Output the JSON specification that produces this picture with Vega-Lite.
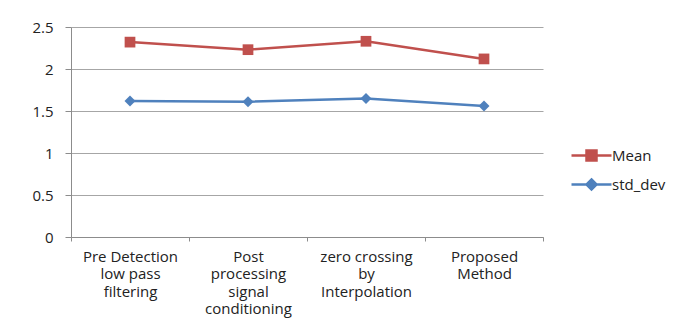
{
  "$schema": "https://vega.github.io/schema/vega-lite/v6.json",
  "autosize": "none",
  "width": 472,
  "height": 210,
  "padding": {"left": 71, "top": 27, "right": 156, "bottom": 82},
  "background": "white",
  "data": {
    "values": [
      {"method": "Pre Detection low pass filtering", "series": "Mean", "value": 2.32},
      {"method": "Post processing signal conditioning", "series": "Mean", "value": 2.23},
      {"method": "zero crossing by Interpolation", "series": "Mean", "value": 2.33},
      {"method": "Proposed Method", "series": "Mean", "value": 2.12},
      {"method": "Pre Detection low pass filtering", "series": "std_dev", "value": 1.62},
      {"method": "Post processing signal conditioning", "series": "std_dev", "value": 1.61},
      {"method": "zero crossing by Interpolation", "series": "std_dev", "value": 1.65},
      {"method": "Proposed Method", "series": "std_dev", "value": 1.56}
    ]
  },
  "encoding": {
    "x": {
      "field": "method",
      "type": "nominal",
      "sort": null,
      "scale": {"paddingInner": 0, "paddingOuter": 0},
      "axis": {
        "title": null,
        "labelAngle": 0,
        "labelExpr": "datum.label == 'Pre Detection low pass filtering' ? ['Pre Detection','low pass','filtering'] : datum.label == 'Post processing signal conditioning' ? ['Post','processing','signal','conditioning'] : datum.label == 'zero crossing by Interpolation' ? ['zero crossing','by','Interpolation'] : datum.label == 'Proposed Method' ? ['Proposed','Method'] : ''",
        "labelLineHeight": 17.5,
        "labelBaseline": "top",
        "labelPadding": 8,
        "labelFontSize": 15,
        "tickBand": "extent",
        "tickSize": 4,
        "tickColor": "#8c8c8c",
        "domainColor": "#8c8c8c",
        "grid": false
      }
    },
    "y": {
      "field": "value",
      "type": "quantitative",
      "scale": {"domain": [0, 2.5], "nice": false},
      "axis": {
        "title": null,
        "values": [0, 0.5, 1, 1.5, 2, 2.5],
        "format": ".1~f",
        "tickSize": 6,
        "labelPadding": 12,
        "labelFontSize": 15,
        "tickColor": "#8c8c8c",
        "domainColor": "#8c8c8c",
        "gridColor": "#a6a6a6",
        "grid": true
      }
    },
    "color": {
      "field": "series",
      "type": "nominal",
      "scale": {"domain": ["Mean", "std_dev"], "range": ["#C0504D", "#4F81BD"]},
      "legend": {
        "title": null,
        "orient": "none",
        "legendX": 499,
        "legendY": 117,
        "padding": 0,
        "symbolSize": 400,
        "symbolStrokeWidth": 2.5,
        "labelOffset": 19,
        "rowPadding": 7,
        "labelFontSize": 15,
        "encode": {
          "symbols": {
            "update": {
              "shape": {"signal": "datum.value == 'Mean' ? 'M-1,0H3M0.5,-0.5H1.5V0.5H0.5Z' : 'M-1,0H3M1,-0.5L1.5,0L1,0.5L0.5,0Z'"},
              "fill": {"signal": "datum.value == 'Mean' ? '#C0504D' : '#4F81BD'"},
              "stroke": {"signal": "datum.value == 'Mean' ? '#C0504D' : '#4F81BD'"},
              "strokeWidth": {"value": 2.5},
              "opacity": {"value": 1}
            }
          }
        }
      }
    }
  },
  "layer": [
    {"mark": {"type": "line", "strokeWidth": 2.5}},
    {
      "transform": [{"filter": "datum.series == 'Mean'"}],
      "mark": {"type": "point", "filled": true, "opacity": 1, "size": 115, "shape": "square"}
    },
    {
      "transform": [{"filter": "datum.series == 'std_dev'"}],
      "mark": {"type": "point", "filled": true, "opacity": 1, "size": 120, "shape": "diamond"}
    }
  ],
  "config": {
    "font": "Open Sans",
    "view": {"stroke": null},
    "axis": {"labelFont": "Open Sans", "labelColor": "#222222"},
    "legend": {"labelFont": "Open Sans", "labelColor": "#222222"}
  }
}
